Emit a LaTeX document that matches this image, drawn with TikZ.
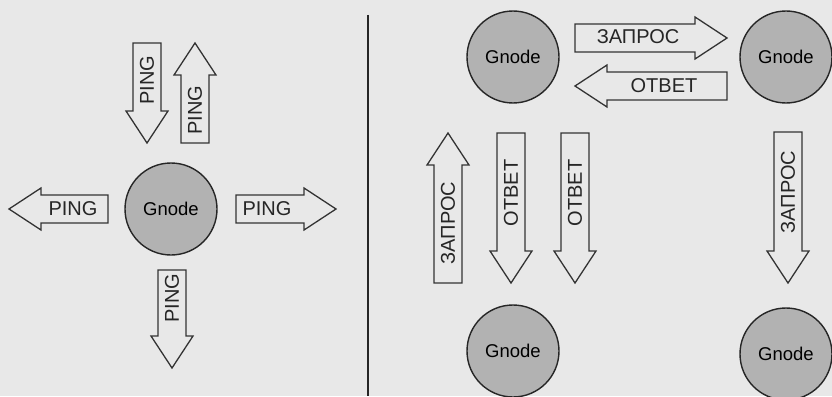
\documentclass[tikz,border=0pt]{standalone}
\usepackage{fontspec}
\setmainfont{Liberation Sans}
\usetikzlibrary{calc}
\tikzset{
  gnode/.style={circle,draw=black!85,line width=1.4pt,fill=black!30,minimum size=92pt,inner sep=0pt,font=\fontsize{18.5}{18.5}\selectfont,name=#1},
  tag/.style={inner sep=0pt,font=\fontsize{20}{20}\selectfont,text=black!85,name=#1},
  vtag/.style={tag=#1,rotate=90},
  barrow/.style={draw=black!80,line width=1.3pt,line join=miter}
}
% block arrow from tail #1 to tip #2
\newcommand{\blockarrow}[2]{%
  \draw [barrow] ($(#1)!14pt!-90:(#2)$)
    -- ($($(#2)!32pt!(#1)$)!14pt!-90:(#2)$)
    -- ($($(#2)!32pt!(#1)$)!21pt!-90:(#2)$)
    -- (#2)
    -- ($($(#2)!32pt!(#1)$)!21pt!90:(#2)$)
    -- ($($(#2)!32pt!(#1)$)!14pt!90:(#2)$)
    -- ($(#1)!14pt!90:(#2)$) -- cycle;}

\begin{document}
\begin{tikzpicture}[x=1pt,y=-1pt]
    \fill [black!9] (0,0) rectangle (832,396);
    \clip (0,0) rectangle (832,396);

    % broadcast
    \node [gnode=hub] at (171,209) {Gnode};
    \blockarrow{108,209}{9,209}
    \node [tag=pingW] at (73,209) {PING};
    \blockarrow{236,209}{336,209}
    \node [tag=pingE] at (267,209) {PING};
    \blockarrow{147,43}{147,143}
    \node [vtag=pingIn] at (147,80) {PING};
    \blockarrow{195,143}{195,43}
    \node [vtag=pingOut] at (195,110) {PING};
    \blockarrow{172,270}{172,368}
    \node [vtag=pingS] at (172,298) {PING};

    \coordinate (divtop) at (368,15);
    \coordinate (divbot) at (368,396);
    \draw [line width=1.4pt,black!85] (divtop) -- (divbot);

    % request / reply
    \node [gnode=nw] at (513,57) {Gnode};
    \node [gnode=ne] at (786,57) {Gnode};
    \node [gnode=sw] at (513,351) {Gnode};
    \node [gnode=se] at (786,354) {Gnode};

    \blockarrow{575,38}{727,38}
    \node [tag=reqTop] at (638,37) {ЗАПРОС};
    \blockarrow{727,86}{575,86}
    \node [tag=ansTop] at (664,86) {ОТВЕТ};
    \blockarrow{448,283}{448,133}
    \node [vtag=reqUp] at (448,223) {ЗАПРОС};
    \blockarrow{511,133}{511,283}
    \node [vtag=ansDown] at (511,193) {ОТВЕТ};
    \blockarrow{575,133}{575,283}
    \node [vtag=ansCross] at (575,193) {ОТВЕТ};
    \blockarrow{788,132}{788,283}
    \node [vtag=reqDown] at (788,192) {ЗАПРОС};
  \end{tikzpicture}
\end{document}
